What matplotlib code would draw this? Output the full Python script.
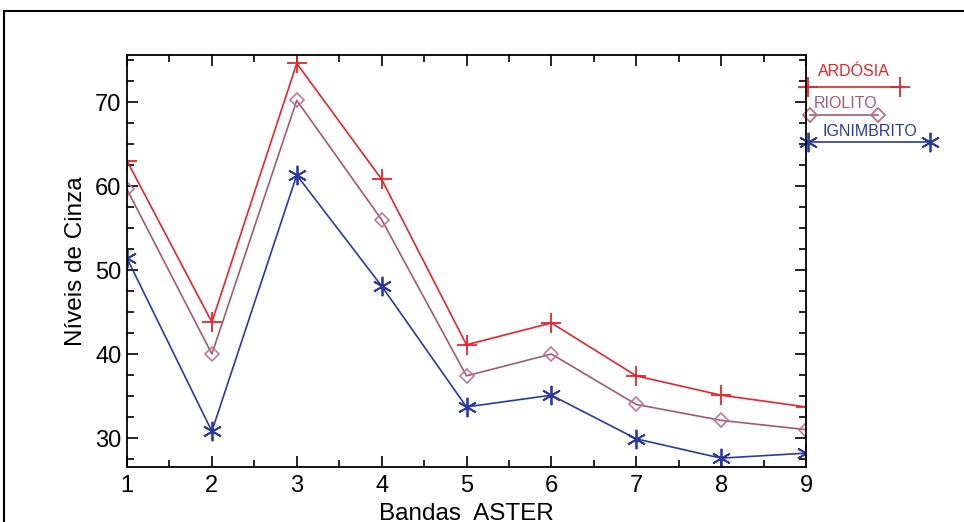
import matplotlib
matplotlib.use('Agg')
import matplotlib.pyplot as plt
from matplotlib.lines import Line2D
from matplotlib.patches import Rectangle

plt.rcParams['font.family'] = ['Liberation Sans', 'DejaVu Sans']

# Dados
bandas = [1, 2, 3, 4, 5, 6, 7, 8, 9]
ardosia = [63.0, 43.8, 74.6, 60.8, 41.1, 43.7, 37.4, 35.1, 33.7]
riolito = [59.6, 40.0, 70.2, 56.0, 37.4, 40.0, 34.0, 32.1, 31.0]
ignimbrito = [51.4, 30.8, 61.3, 48.1, 33.7, 35.1, 29.9, 27.6, 28.2]
nomes = ['ARDÓSIA', 'RIOLITO', 'IGNIMBRITO']

cor_ardosia = '#e8232b'
cor_riolito = '#a25a72'
cor_ignimbrito = '#2b3a9c'
asterisco = (6, 2, 0)

fig = plt.figure(figsize=(9.64, 5.22), dpi=100)
ax = fig.add_axes([127 / 964, 1 - 467 / 522, 679 / 964, 412 / 522])

ax.plot(bandas, ardosia, color=cor_ardosia, lw=1.2, marker='+', ms=15, mew=1.3)
ax.plot(bandas, riolito, color=cor_riolito, lw=1.2, marker='D', ms=7,
        mfc='none', mec='#c0708a', mew=1.1)
ax.plot(bandas, ignimbrito, color=cor_ignimbrito, lw=1.2, marker=asterisco, ms=14, mew=1.3)

ax.set_xlim(1, 9)
ax.set_ylim(26.55, 75.6)
ax.set_xticks(bandas)
ax.set_yticks([30, 40, 50, 60, 70])
ax.set_xticks([b + 0.5 for b in bandas[:-1]], minor=True)
ax.set_yticks([27.5, 32.5, 35, 37.5, 42.5, 45, 47.5, 52.5, 55, 57.5, 62.5, 65, 67.5, 72.5, 75], minor=True)
ax.tick_params(which='both', direction='in', top=True, right=True, width=1.2)
ax.tick_params(which='major', length=8, labelsize=17)
ax.tick_params(axis='y', pad=4)
ax.tick_params(axis='x', pad=6)
ax.tick_params(which='minor', length=5)
for s in ax.spines.values():
    s.set_linewidth(1.3)

ax.set_xlabel('Bandas  ASTER', fontsize=17.5, labelpad=4)
ax.set_ylabel('Níveis de Cinza', fontsize=17.5, labelpad=6)

# Legenda desenhada à direita do gráfico
def px(x, y):
    return (x - 127) / 679, (467 - y) / 412

itens = [
    (nomes[0], cor_ardosia, cor_ardosia, '+', 15, 808, 900, 87, 854, 72),
    (nomes[1], cor_riolito, '#c0708a', 'D', 7, 810, 878, 115, 846, 103),
    (nomes[2], cor_ignimbrito, cor_ignimbrito, asterisco, 14, 808, 930, 142, 870, 132),
]
for nome, cor, cor_m, mk, ms, x0, x1, yl, xt, yt in itens:
    a0 = px(x0, yl)
    a1 = px(x1, yl)
    ln = Line2D([a0[0], a1[0]], [a0[1], a1[1]], transform=ax.transAxes, color=cor, lw=1.2,
                marker=mk, ms=ms, mfc='none', mec=cor_m, mew=1.3, clip_on=False)
    ax.add_line(ln)
    t = px(xt, yt)
    ax.text(t[0], t[1], nome, transform=ax.transAxes, color=cor, fontsize=11.5,
            ha='center', va='center')

# Moldura externa
fig.patches.append(Rectangle((4 / 964, -0.1), 1.1, 1 - 11 / 522 + 0.1, transform=fig.transFigure,
                             fill=False, lw=1.5, ec='black', clip_on=False))

fig.savefig('out.png', dpi=100)
